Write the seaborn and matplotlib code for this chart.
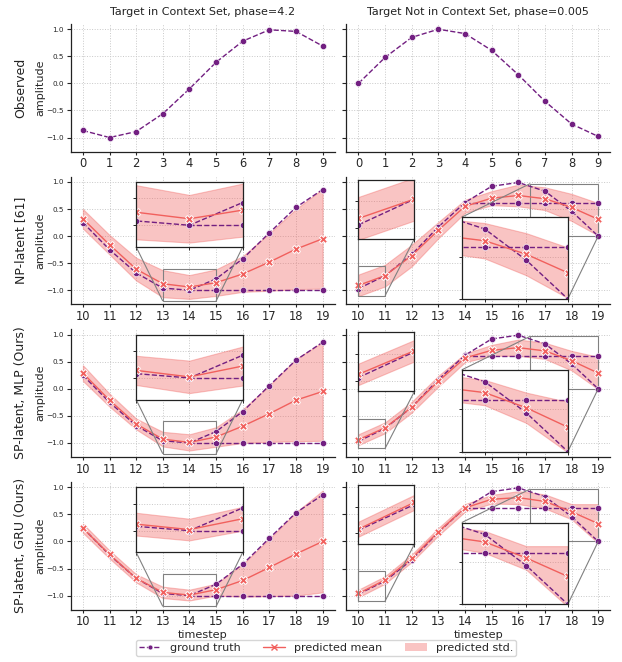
import numpy as np
import matplotlib
matplotlib.use("Agg")
import matplotlib.pyplot as plt
import seaborn as sns
from matplotlib.lines import Line2D
from matplotlib.patches import Patch
from mpl_toolkits.axes_grid1.inset_locator import mark_inset

PURPLE = "#721f81"
RED = "#f1605d"
BAND_ALPHA = 0.37

# observed context (timesteps 0-9)
obs_t = np.arange(0, 10)
obs_in = [-0.87, -1.0, -0.89, -0.56, -0.10, 0.39, 0.78, 0.99, 0.96, 0.69]
obs_out = [0.0, 0.48, 0.85, 1.0, 0.92, 0.61, 0.16, -0.33, -0.75, -0.98]

# targets (timesteps 10-19), ground truth splits into two branches at 14
pred_t = np.arange(10, 20)
branch_t = np.arange(14, 20)
gt_in = [0.25, -0.25, -0.68, -0.96, -1.0, -0.79, -0.42, 0.06, 0.53, 0.86]
gt_in_flat = [-1.0, -1.0, -1.0, -1.0, -1.0, -1.0]
gt_out = [-0.97, -0.73, -0.34, 0.17, 0.62, 0.92, 0.99, 0.83, 0.46, 0.0]
gt_out_flat = [0.61, 0.61, 0.61, 0.61, 0.61, 0.61]

# predicted mean / std per model
np_in_mean = [0.32, -0.16, -0.61, -0.88, -0.94, -0.86, -0.70, -0.48, -0.24, -0.05]
np_in_std = [0.18, 0.18, 0.21, 0.25, 0.22, 0.245, 0.33, 0.53, 0.74, 0.92]
np_out_mean = [-0.91, -0.73, -0.36, 0.11, 0.55, 0.70, 0.75, 0.69, 0.53, 0.31]
np_out_std = [0.2, 0.2, 0.2, 0.15, 0.12, 0.13, 0.2, 0.21, 0.25, 0.3]

mlp_in_mean = [0.29, -0.21, -0.65, -0.93, -0.99, -0.89, -0.69, -0.46, -0.21, -0.05]
mlp_in_std = [0.145, 0.12, 0.1, 0.135, 0.15, 0.18, 0.31, 0.52, 0.76, 0.91]
mlp_out_mean = [-0.94, -0.72, -0.34, 0.14, 0.57, 0.71, 0.76, 0.70, 0.52, 0.29]
mlp_out_std = [0.1, 0.1, 0.1, 0.1, 0.08, 0.1, 0.15, 0.15, 0.18, 0.3]

gru_in_mean = [0.245, -0.24, -0.68, -0.94, -0.99, -0.89, -0.72, -0.48, -0.23, 0.0]
gru_in_std = [0.085, 0.075, 0.075, 0.105, 0.1, 0.11, 0.3, 0.53, 0.77, 0.94]
gru_out_mean = [-0.96, -0.71, -0.31, 0.18, 0.62, 0.78, 0.81, 0.74, 0.55, 0.33]
gru_out_std = [0.07, 0.07, 0.07, 0.07, 0.07, 0.08, 0.12, 0.13, 0.14, 0.36]

row_labels = ["Observed", "NP-latent [61]", "SP-latent, MLP (Ours)", "SP-latent, GRU (Ours)"]
col_titles = ["Target in Context Set, phase=4.2", "Target Not in Context Set, phase=0.005"]
models = [(np_in_mean, np_in_std, np_out_mean, np_out_std),
          (mlp_in_mean, mlp_in_std, mlp_out_mean, mlp_out_std),
          (gru_in_mean, gru_in_std, gru_out_mean, gru_out_std)]

sns.set_theme(style="ticks", rc={
    "axes.grid": True,
    "grid.linestyle": ":",
    "grid.color": "#c8c8c8",
    "grid.linewidth": 0.7,
    "axes.edgecolor": "#222222",
    "axes.linewidth": 0.9,
})
plt.rcParams["font.family"] = ["DejaVu Sans"]


def draw_gt(ax, t, y, ms=4.5):
    sns.lineplot(x=t, y=y, ax=ax, color=PURPLE, linestyle="--", lw=1.0,
                 marker="o", markersize=ms, markeredgecolor="white",
                 markeredgewidth=0.4, legend=False)


def draw_pred(ax, gt_a, gt_b, mean, std):
    mean = np.array(mean)
    std = np.array(std)
    ax.fill_between(pred_t, mean - std, mean + std, color=RED, alpha=BAND_ALPHA,
                    lw=0.8, zorder=1)
    draw_gt(ax, pred_t, gt_a)
    draw_gt(ax, branch_t, gt_b)
    sns.lineplot(x=pred_t, y=mean, ax=ax, color=RED, lw=1.0, marker="X",
                 markersize=6, markeredgecolor="white", markeredgewidth=0.7,
                 legend=False)


def add_inset(ax, bounds, xlim, ylim, gt_a, gt_b, mean, std, loc1, loc2):
    axins = ax.inset_axes(bounds, transform=ax.transData)
    draw_pred(axins, gt_a, gt_b, mean, std)
    axins.set_xlim(*xlim)
    axins.set_ylim(*ylim)
    axins.set_xlabel("")
    axins.set_ylabel("")
    axins.tick_params(labelleft=False, labelbottom=False, length=2.5, width=0.7)
    for s in axins.spines.values():
        s.set_visible(True)
        s.set_color("#222222")
        s.set_linewidth(0.9)
    mark_inset(ax, axins, loc1=loc1, loc2=loc2, fc="none", ec="0.5", lw=0.8)


fig, axes = plt.subplots(4, 2, figsize=(6.22, 6.62), dpi=100, sharey=True)
fig.subplots_adjust(left=0.114, right=0.981, top=0.964, bottom=0.079,
                    wspace=0.045, hspace=0.195)

# top row: observed context
draw_gt(axes[0, 0], obs_t, obs_in)
draw_gt(axes[0, 1], obs_t, obs_out)
for j in range(2):
    axes[0, j].set_xticks(obs_t)
    axes[0, j].set_xlim(-0.45, 9.45)
    axes[0, j].set_title(col_titles[j], fontsize=8, color="#222222")

for i, (m_in, s_in, m_out, s_out) in enumerate(models, start=1):
    left, right = axes[i, 0], axes[i, 1]
    draw_pred(left, gt_in, gt_in_flat, m_in, s_in)
    draw_pred(right, gt_out, gt_out_flat, m_out, s_out)
    for ax in (left, right):
        ax.set_xticks(pred_t)
        ax.set_xlim(9.55, 19.45)
    add_inset(left, [12.0, -0.2, 4.0, 1.2], (13, 15), (-1.2, -0.6),
              gt_in, gt_in_flat, m_in, s_in, 3, 4)
    add_inset(right, [10.0, -0.05, 2.1, 1.09], (10, 11), (-1.1, -0.55),
              gt_out, gt_out_flat, m_out, s_out, 3, 4)
    add_inset(right, [13.88, -1.16, 3.98, 1.51], (16.45, 19.0), (0.0, 0.97),
              gt_out, gt_out_flat, m_out, s_out, 2, 4)

for i in range(4):
    for j in range(2):
        ax = axes[i, j]
        sns.despine(ax=ax)
        ax.set_ylim(-1.26, 1.1)
        ax.set_yticks([-1.0, -0.5, 0.0, 0.5, 1.0])
        ax.tick_params(axis="y", labelsize=5.2, length=3, width=0.8, pad=2)
        ax.tick_params(axis="x", labelsize=8.3, length=2, width=0.8, pad=2)
        ax.set_xlabel("")
        ax.set_ylabel("")
    axes[i, 0].set_ylabel("amplitude", fontsize=8)
    axes[i, 0].yaxis.set_label_coords(-0.095, 0.5)
    pos = axes[i, 0].get_position()
    fig.text(21 / 622, pos.y0 + pos.height / 2, row_labels[i], rotation=90,
             ha="center", va="center", fontsize=9, color="#222222")

for j in range(2):
    axes[3, j].set_xlabel("timestep", fontsize=8.1, labelpad=1)

handles = [
    Line2D([], [], color=PURPLE, linestyle="--", lw=1.0, marker="o",
           markersize=3.5, markeredgecolor="white", markeredgewidth=0.4),
    Line2D([], [], color=RED, lw=1.0, marker="x", markersize=4.5),
    Patch(facecolor=RED, alpha=BAND_ALPHA, edgecolor="none"),
]
fig.legend(handles, ["ground truth", "predicted mean", "predicted std."],
           loc="lower center", bbox_to_anchor=(0.524, 0.0), ncol=3,
           fontsize=8, frameon=True, edgecolor="#cccccc", borderpad=0.3,
           handletextpad=0.8)

fig.savefig("out.png", dpi=100)
